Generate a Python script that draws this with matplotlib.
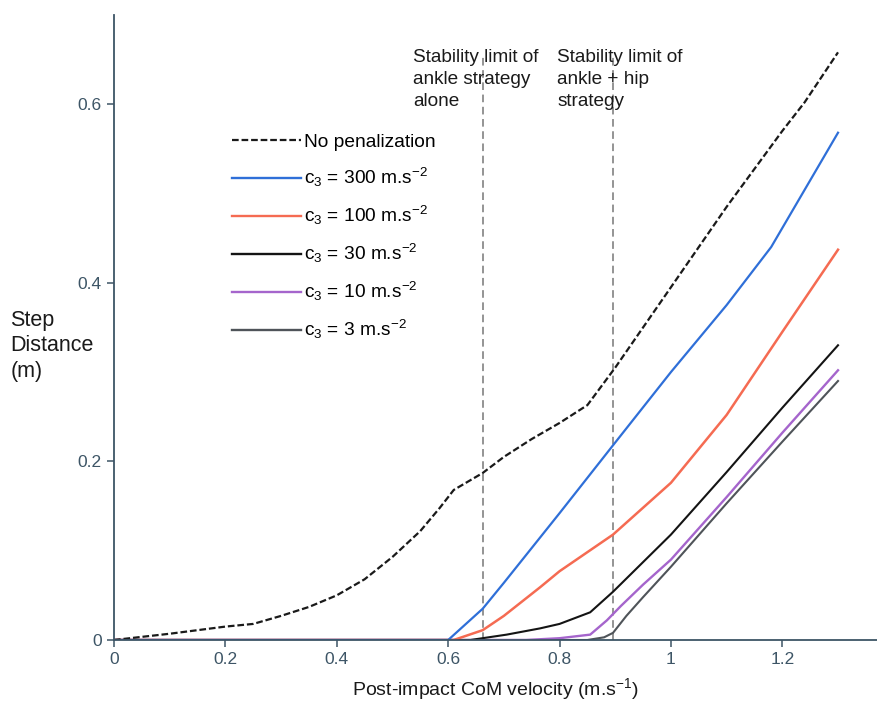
import matplotlib.pyplot as plt
from matplotlib.lines import Line2D

plt.rcParams["font.family"] = ["Liberation Sans", "DejaVu Sans"]
plt.rcParams["mathtext.default"] = "regular"

#### Data

v_nopen = [0, 0.1, 0.2, 0.25, 0.3, 0.35, 0.4, 0.45, 0.5, 0.55, 0.585, 0.61, 0.662, 0.7, 0.75, 0.8, 0.85, 0.9, 1.0, 1.1, 1.2, 1.24, 1.3]
d_nopen = [0, 0.007, 0.015, 0.018, 0.027, 0.037, 0.05, 0.068, 0.093, 0.122, 0.148, 0.168, 0.187, 0.205, 0.225, 0.243, 0.263, 0.305, 0.395, 0.485, 0.57, 0.602, 0.658]

v_300 = [0, 0.6, 0.662, 0.7, 0.8, 0.896, 1.0, 1.1, 1.18, 1.3]
d_300 = [0, 0, 0.035, 0.064, 0.142, 0.218, 0.3, 0.375, 0.44, 0.568]

v_100 = [0, 0.61, 0.662, 0.7, 0.765, 0.8, 0.896, 1.0, 1.1, 1.2, 1.3]
d_100 = [0, 0, 0.011, 0.027, 0.059, 0.077, 0.118, 0.176, 0.252, 0.345, 0.437]

v_30 = [0, 0.64, 0.705, 0.765, 0.8, 0.855, 0.896, 1.0, 1.1, 1.2, 1.3]
d_30 = [0, 0, 0.006, 0.013, 0.018, 0.031, 0.054, 0.118, 0.188, 0.26, 0.33]

v_10 = [0, 0.74, 0.8, 0.855, 0.885, 0.91, 0.95, 1.0, 1.1, 1.2, 1.3]
d_10 = [0, 0, 0.002, 0.006, 0.022, 0.038, 0.062, 0.09, 0.16, 0.232, 0.302]

v_3 = [0, 0.85, 0.88, 0.896, 0.92, 0.95, 1.0, 1.1, 1.2, 1.3]
d_3 = [0, 0, 0.003, 0.008, 0.027, 0.048, 0.082, 0.153, 0.222, 0.29]

limits = [0.662, 0.896]
limit_labels = ["Stability limit of\nankle strategy\nalone", "Stability limit of\nankle + hip\nstrategy"]

labels = ["No penalization", "c$_3$ = 300 m.s$^{-2}$", "c$_3$ = 100 m.s$^{-2}$",
          "c$_3$ = 30 m.s$^{-2}$", "c$_3$ = 10 m.s$^{-2}$", "c$_3$ = 3 m.s$^{-2}$"]
colors = ["#1a1a1a", "#2f6fd8", "#f56b52", "#141414", "#a565cc", "#4f5459"]

#### Plot

axcol = "#3d5566"
fig = plt.figure(figsize=(8.77, 7.06), dpi=100)
ax = fig.add_axes([0.130, 0.0935, 0.870, 0.8855])

for x, txt in zip(limits, limit_labels):
    ax.plot([x, x], [0, 0.655], color="#777777", lw=1.1, ls=(0, (5, 3)), zorder=1)
    ax.text(x - 0.125 if x < 0.8 else x - 0.1, 0.662, txt, fontsize=13.7, va="top", ha="left",
            color="#1a1a1a", linespacing=1.4)

ax.plot(v_3, d_3, color=colors[5], lw=1.5)
ax.plot(v_10, d_10, color=colors[4], lw=1.7)
ax.plot(v_30, d_30, color=colors[3], lw=1.5)
ax.plot(v_100, d_100, color=colors[2], lw=1.8)
ax.plot(v_300, d_300, color=colors[1], lw=1.6)
ax.plot(v_nopen, d_nopen, color=colors[0], lw=1.6, ls=(0, (3, 1.3)))

handles = [Line2D([], [], color=colors[0], lw=1.6, ls=(0, (3, 1.3)))]
for c in colors[1:]:
    handles.append(Line2D([], [], color=c, lw=1.7))
ax.legend(handles, labels, loc="upper left", bbox_to_anchor=(0.145, 0.822), frameon=False,
          fontsize=13.8, handlelength=3.6, handletextpad=0.15, labelspacing=0.78,
          borderaxespad=0)

ax.set_xlim(0, 1.37)
ax.set_ylim(0, 0.70)
ax.set_xticks([0, 0.2, 0.4, 0.6, 0.8, 1, 1.2])
ax.set_xticklabels(["0", "0.2", "0.4", "0.6", "0.8", "1", "1.2"])
ax.set_yticks([0, 0.2, 0.4, 0.6])
ax.set_yticklabels(["0", "0.2", "0.4", "0.6"])
ax.spines["top"].set_visible(False)
ax.spines["right"].set_visible(False)
for s in ["left", "bottom"]:
    ax.spines[s].set_color(axcol)
    ax.spines[s].set_linewidth(1.3)
ax.tick_params(colors=axcol, labelsize=12.5, length=5, width=1.1, pad=4)

ax.set_xlabel("Post-impact CoM velocity (m.s$^{-1}$)", fontsize=14, color="#1a1a1a", labelpad=6)
fig.text(0.012, 0.51, "Step\nDistance\n(m)", fontsize=15.5, va="center", ha="left",
         color="#1a1a1a", linespacing=1.3)

fig.savefig("out.png", dpi=100)
